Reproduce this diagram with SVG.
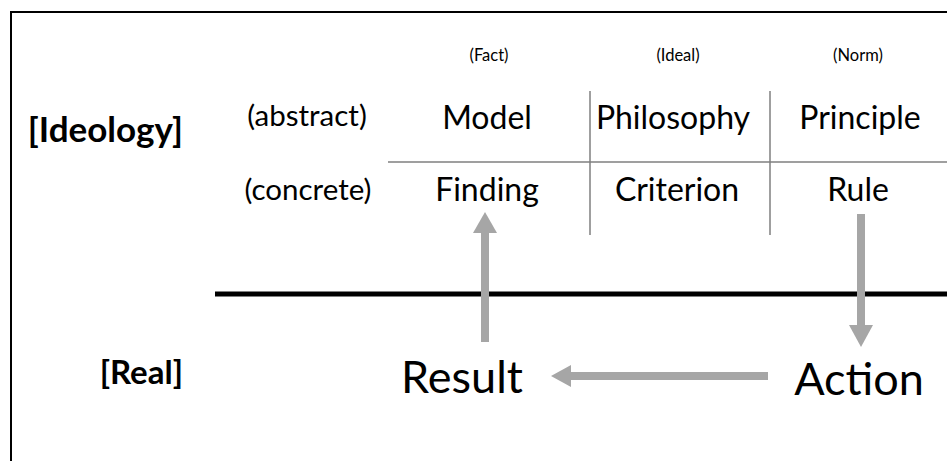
<svg xmlns="http://www.w3.org/2000/svg" width="947" height="461" viewBox="0 0 947 461">
<style>
text{font-family:Lato,"Open Sans","Liberation Sans",sans-serif;fill:#000}
.hdr{font-size:16.5px;text-anchor:middle}
.row{font-size:29.5px;text-anchor:middle}
.cell{font-size:32px;text-anchor:middle}
.big{font-size:45px;text-anchor:middle}
.lbl{font-size:35px;font-weight:bold;text-anchor:end}
.grid{stroke:#7f7f7f;stroke-width:1.5;fill:none}
.shaft{stroke:#a6a6a6;stroke-width:8;fill:none}
.head{fill:#a6a6a6}
</style>
<rect x="11" y="12" width="960" height="480" fill="#fff" stroke="#000" stroke-width="2"/>
<g id="labels">
<text class="lbl" x="183" y="142">[Ideology]</text>
<text class="lbl" x="183" y="384" style="font-size:33px">[Real]</text>
<text class="row" x="307" y="126">(abstract)</text>
<text class="row" x="308" y="200">(concrete)</text>
<text class="hdr" x="489" y="61">(Fact)</text>
<text class="hdr" x="678" y="61">(Ideal)</text>
<text class="hdr" x="858" y="61">(Norm)</text>
</g>
<g id="grid">
<line class="grid" x1="388" y1="162" x2="947" y2="162"/>
<line class="grid" x1="590" y1="91" x2="590" y2="235"/>
<line class="grid" x1="770" y1="91" x2="770" y2="235"/>
</g>
<g id="model"><text class="cell" x="487" y="129">Model</text></g>
<g id="philosophy"><text class="cell" x="673" y="129">Philosophy</text></g>
<g id="principle"><text class="cell" x="860" y="129">Principle</text></g>
<g id="finding"><text class="cell" x="487" y="201">Finding</text></g>
<g id="criterion"><text class="cell" x="677" y="201">Criterion</text></g>
<g id="rule"><text class="cell" x="858" y="201">Rule</text></g>
<g id="boundary"><line x1="215" y1="294" x2="947" y2="294" stroke="#000" stroke-width="5"/></g>
<g id="result"><text class="big" x="462" y="393">Result</text></g>
<g id="action"><text class="big" x="859" y="395">Action</text></g>
<g id="connectors">
<line class="shaft" x1="485" y1="342" x2="485" y2="232"/>
<polygon class="head" points="473,233 497,233 485,212"/>
<line class="shaft" x1="861" y1="214" x2="861" y2="326"/>
<polygon class="head" points="849,325 873,325 861,347"/>
<line class="shaft" x1="768" y1="376" x2="570" y2="376"/>
<polygon class="head" points="571,365 571,387 551,376"/>
</g>
</svg>
